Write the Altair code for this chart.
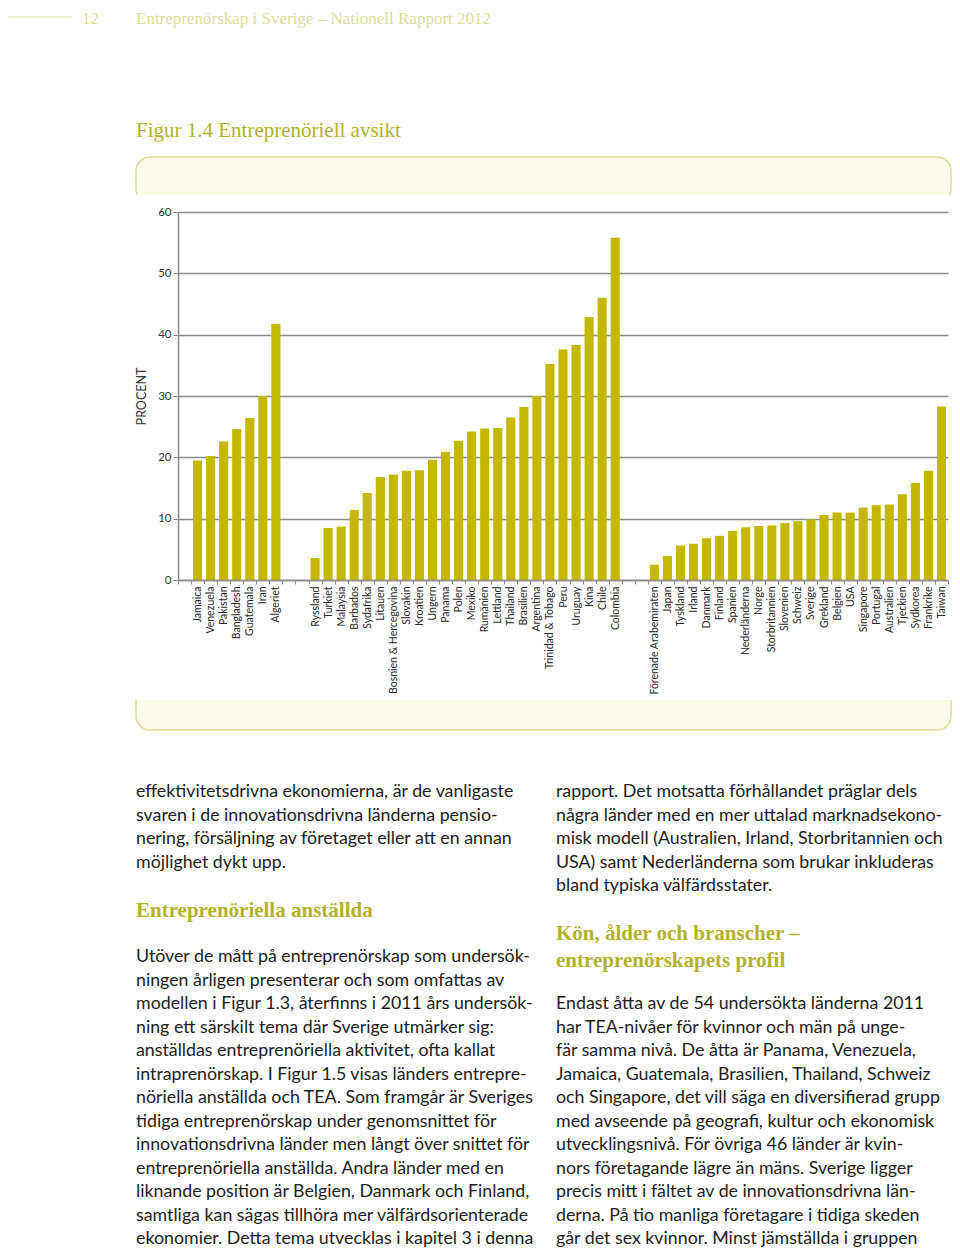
import altair as alt
import pandas as pd

# ---------------- data ----------------
group1 = ["Jamaica", "Venezuela", "Pakistan", "Bangladesh", "Guatemala", "Iran", "Algeriet"]
values1 = [19.5, 20.2, 22.6, 24.6, 26.4, 30.0, 41.8]

group2 = ["Ryssland", "Turkiet", "Malaysia", "Barbados", "Sydafrika", "Litauen",
          "Bosnien & Hercegovina", "Slovakin", "Kroatien", "Ungern", "Panama", "Polen",
          "Mexiko", "Rumänien", "Lettland", "Thailand", "Brasilien", "Argentina",
          "Trinidad & Tobago", "Peru", "Uruguay", "Kina", "Chile", "Colombia"]
values2 = [3.6, 8.5, 8.7, 11.4, 14.2, 16.8, 17.2, 17.8, 17.9, 19.6, 20.9, 22.7,
           24.2, 24.7, 24.8, 26.5, 28.2, 30.0, 35.2, 37.6, 38.3, 42.9, 46.0, 55.8]

group3 = ["Förenade Arabemiraten", "Japan", "Tyskland", "Irland", "Danmark", "Finland",
          "Spanien", "Nederländerna", "Norge", "Storbritannien", "Slovenien", "Schweiz",
          "Sverige", "Grekland", "Belgien", "USA", "Singapore", "Portugal", "Australien",
          "Tjeckien", "Sydkorea", "Frankrike", "Taiwan"]
values3 = [2.5, 3.9, 5.6, 5.9, 6.8, 7.2, 8.0, 8.6, 8.8, 8.9, 9.3, 9.6,
           9.9, 10.6, 11.0, 11.0, 11.8, 12.2, 12.3, 14.0, 15.8, 17.8, 28.3]

y_ticks = [0, 10, 20, 30, 40, 50, 60]

page_number = "12"
header_text = "Entreprenörskap i Sverige – Nationell Rapport 2012"
figure_title = "Figur 1.4 Entreprenöriell avsikt"
y_title = "PROCENT"

left_para1 = [
    "effektivitetsdrivna ekonomierna, är de vanligaste",
    "svaren i de innovationsdrivna länderna pensio-",
    "nering, försäljning av företaget eller att en annan",
    "möjlighet dykt upp.",
]
left_heading = ["Entreprenöriella anställda"]
left_para2 = [
    "Utöver de mått på entreprenörskap som undersök-",
    "ningen årligen presenterar och som omfattas av",
    "modellen i Figur 1.3, återfinns i 2011 års undersök-",
    "ning ett särskilt tema där Sverige utmärker sig:",
    "anställdas entreprenöriella aktivitet, ofta kallat",
    "intraprenörskap. I Figur 1.5 visas länders entrepre-",
    "nöriella anställda och TEA. Som framgår är Sveriges",
    "tidiga entreprenörskap under genomsnittet för",
    "innovationsdrivna länder men långt över snittet för",
    "entreprenöriella anställda. Andra länder med en",
    "liknande position är Belgien, Danmark och Finland,",
    "samtliga kan sägas tillhöra mer välfärdsorienterade",
    "ekonomier. Detta tema utvecklas i kapitel 3 i denna",
]
right_para1 = [
    "rapport. Det motsatta förhållandet präglar dels",
    "några länder med en mer uttalad marknadsekono-",
    "misk modell (Australien, Irland, Storbritannien och",
    "USA) samt Nederländerna som brukar inkluderas",
    "bland typiska välfärdsstater.",
]
right_heading = ["Kön, ålder och branscher –", "entreprenörskapets profil"]
right_para2 = [
    "Endast åtta av de 54 undersökta länderna 2011",
    "har TEA-nivåer för kvinnor och män på unge-",
    "fär samma nivå. De åtta är Panama, Venezuela,",
    "Jamaica, Guatemala, Brasilien, Thailand, Schweiz",
    "och Singapore, det vill säga en diversifierad grupp",
    "med avseende på geografi, kultur och ekonomisk",
    "utvecklingsnivå. För övriga 46 länder är kvin-",
    "nors företagande lägre än mäns. Sverige ligger",
    "precis mitt i fältet av de innovationsdrivna län-",
    "derna. På tio manliga företagare i tidiga skeden",
    "går det sex kvinnor. Minst jämställda i gruppen",
]

# ---------------- layout ----------------
W, H = 770, 368          # plot area
X0, Y0 = 178, 212        # page position of plot origin
CANVAS_W, CANVAS_H = 944, 1240


def px(x):
    return x - X0


def py(y):
    return y - Y0


BAR = "#c4b700"
HEAD = "#b3b12a"
PALE = "#dcdc9c"
GRID = "#8a8a8a"
BODY = "#1c1c1c"

domain = ["_b0"] + group1 + ["_b1", "_b2"] + group2 + ["_b3", "_b4"] + group3
bars_df = pd.DataFrame({"land": group1 + group2 + group3,
                        "procent": values1 + values2 + values3})

one = pd.DataFrame({"a": [0]})


def box(x1, x2, y1, y2, **kw):
    return alt.Chart(one).mark_rect(**kw).encode(
        x=alt.value(px(x1)), x2=alt.value(px(x2)),
        y=alt.value(py(y1)), y2=alt.value(py(y2)))


band_fill = "#fbf9e7"
band_stroke = "#dedb94"
top_band = box(136, 951, 157, 203, cornerRadius=14, fill=band_fill,
               stroke=band_stroke, strokeWidth=1.5)
top_cover = box(130, 960, 195, 204.5, fill="white", strokeWidth=0)
bot_band = box(136, 951, 685, 730, cornerRadius=14, fill=band_fill,
               stroke=band_stroke, strokeWidth=1.5)
bot_cover = box(130, 960, 683, 700, fill="white", strokeWidth=0)

header_rule = alt.Chart(one).mark_rule(color=PALE, strokeWidth=1).encode(
    x=alt.value(px(8)), x2=alt.value(px(72)), y=alt.value(py(17)))

bars = alt.Chart(bars_df).mark_bar(color=BAR, width=alt.RelativeBandSize(0.7)).encode(
    x=alt.X("land:N",
            scale=alt.Scale(domain=domain, paddingInner=0, paddingOuter=0),
            axis=alt.Axis(title=None, labelAngle=-90,
                          labelExpr="isString(datum.value) && indexof(datum.value, '_b') != 0 ? datum.value : ''",
                          tickBand="extent", tickSize=4, tickColor=GRID, tickWidth=1,
                          domainColor=GRID, domainWidth=1.5,
                          labelFont="Lato", labelFontSize=10.5, labelColor="#262626",
                          labelPadding=2, labelOverlap=False, zindex=1, grid=False)),
    y=alt.Y("procent:Q",
            scale=alt.Scale(domain=[0, 60], nice=False),
            axis=alt.Axis(title=y_title, values=y_ticks, grid=True,
                          gridColor=GRID, gridWidth=1.5,
                          domainColor=GRID, domainWidth=1.5,
                          tickColor=GRID, tickSize=5, tickWidth=1,
                          labelFont="Lato", labelFontSize=11.5, labelColor="#333333",
                          labelPadding=2,
                          titleFont="Lato", titleFontSize=12.5, titleFontWeight="normal",
                          titleColor="#333333", titlePadding=9)),
)


def text_layers(x, ys, texts, font, size, color, weight="normal"):
    out = []
    for yv, t in zip(ys, texts):
        out.append(alt.Chart(one).mark_text(
            align="left", baseline="middle", font=font, fontSize=size,
            color=color, fontWeight=weight, text=t).encode(
            x=alt.value(px(x)), y=alt.value(py(yv))))
    return out


LS = 23.5
BODY_FONT, BODY_SIZE = "Lato", 17.8
SERIF = "Liberation Serif"

layers = [top_band, top_cover, bot_band, bot_cover, header_rule, bars]

layers += text_layers(82, [19], [page_number], SERIF, 17, PALE)
layers += text_layers(136, [19], [header_text], SERIF, 17, PALE)
layers += text_layers(136, [131], [figure_title], SERIF, 21, HEAD)

lx = 136
layers += text_layers(lx, [792 + i * LS for i in range(len(left_para1))],
                      left_para1, BODY_FONT, BODY_SIZE, BODY)
layers += text_layers(lx, [911], left_heading, SERIF, 21, HEAD, "bold")
layers += text_layers(lx, [957 + i * LS for i in range(len(left_para2))],
                      left_para2, BODY_FONT, BODY_SIZE, BODY)
rx = 556
layers += text_layers(rx, [792 + i * LS for i in range(len(right_para1))],
                      right_para1, BODY_FONT, BODY_SIZE, BODY)
layers += text_layers(rx, [934, 961], right_heading, SERIF, 21, HEAD, "bold")
layers += text_layers(rx, [1004 + i * LS for i in range(len(right_para2))],
                      right_para2, BODY_FONT, BODY_SIZE, BODY)

chart = alt.layer(*layers).properties(
    width=W, height=H,
    autosize=alt.AutoSizeParams(type="none"),
    padding={"left": X0 - 8, "top": Y0 - 8,
             "right": CANVAS_W - (X0 - 8) - W,
             "bottom": CANVAS_H - (Y0 - 8) - H},
    background="white",
).configure_view(stroke=None)

chart.save("out.html", embed_options={"renderer": "svg", "actions": False})
